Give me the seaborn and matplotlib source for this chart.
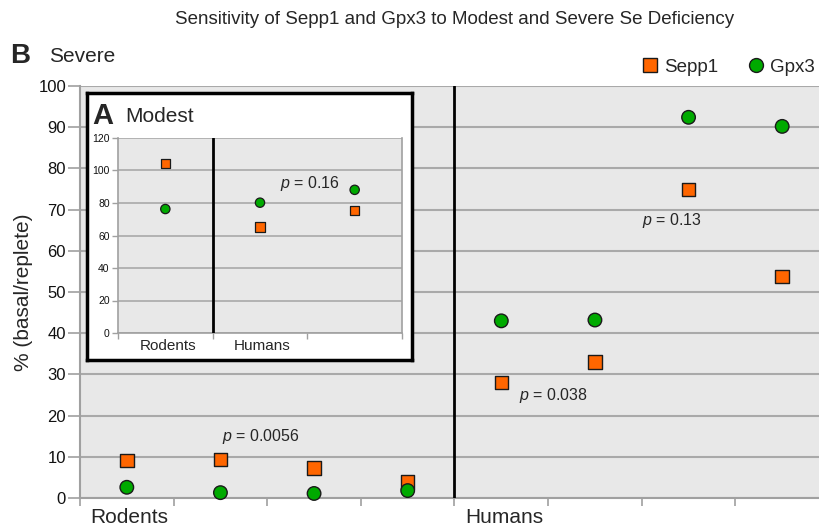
import numpy as np
import pandas as pd
import matplotlib
matplotlib.use("Agg")
import matplotlib.pyplot as plt
import matplotlib.transforms as mtransforms
from matplotlib.lines import Line2D
import seaborn as sns

# ---------------- data ----------------
genes = ["Sepp1", "Gpx3"]
severe_groups = ["Rodents", "Humans"]
severe_sepp1 = [9.1, 9.3, 7.3, 3.9, 28.0, 33.0, 74.9, 53.8]
severe_gpx3 = [2.6, 1.3, 1.1, 1.8, 43.0, 43.2, 92.4, 90.2]
modest_groups = ["Rodents", "Humans"]
modest_sepp1 = [104.3, 65.2, 75.3]
modest_gpx3 = [76.3, 80.2, 88.1]
severe_yticks = list(range(0, 101, 10))
modest_yticks = list(range(0, 121, 20))
severe_pvals = ["0.0056", "0.038", "0.13"]
modest_pval = "0.16"

title = "Sensitivity of Sepp1 and Gpx3 to Modest and Severe Se Deficiency"

# ---------------- style ----------------
sns.set_theme(style="white")
plt.rcParams["font.family"] = ["Liberation Sans", "DejaVu Sans"]
plt.rcParams["mathtext.fontset"] = "custom"
plt.rcParams["mathtext.it"] = "Liberation Sans:italic"
plt.rcParams["mathtext.rm"] = "Liberation Sans"

palette = {"Sepp1": "#ff6600", "Gpx3": "#00aa00"}
markers = {"Sepp1": "s", "Gpx3": "o"}
bg = "#e8e8e8"
gridc = "#a9a9a9"
spinec = "#a0a0a0"

W, H = 820, 526
fig = plt.figure(figsize=(W / 100, H / 100), dpi=100)


def fx(px):
    return px / W


def fy(py):
    return 1 - py / H


# ---------------- main (severe) axes ----------------
ax = fig.add_axes([fx(80), fy(498), fx(829) - fx(80), fy(86) - fy(498)])
ax.set_facecolor(bg)
n_sev = len(severe_sepp1)
sev = pd.DataFrame({
    "pos": list(range(n_sev)) * 2,
    "value": severe_sepp1 + severe_gpx3,
    "gene": ["Sepp1"] * n_sev + ["Gpx3"] * n_sev,
})
sns.scatterplot(data=sev, x="pos", y="value", hue="gene", style="gene",
                palette=palette, markers=markers, s=95, edgecolor="#1a1a1a",
                linewidth=1.0, ax=ax, legend=False, zorder=4, clip_on=False)
ax.set_xlim(-0.5, n_sev - 0.5)
ax.set_ylim(0, 100)
ax.set_yticks(severe_yticks)
ax.set_xticks(np.arange(-0.5, n_sev, 1.0))
ax.set_xticklabels([])
ax.yaxis.grid(True, color=gridc, lw=1.5, zorder=0)
ax.set_axisbelow(True)
ax.tick_params(axis="y", left=True, length=9, width=1.2, color=spinec,
               labelsize=12, pad=1, labelcolor="#111111")
ax.tick_params(axis="x", bottom=True, length=6, width=1.2, color=spinec)
for s in ["top", "right"]:
    ax.spines[s].set_visible(False)
for s in ["left", "bottom"]:
    ax.spines[s].set_color(spinec)
    ax.spines[s].set_linewidth(1.5)
ax.axvline(n_sev / 2 - 0.5, color="black", lw=2, zorder=3)
ax.set_xlabel("")
ax.set_ylabel("% (basal/replete)", fontsize=15, labelpad=4)

trans = mtransforms.blended_transform_factory(ax.transData, ax.transAxes)
ax.text(-0.39, -0.048, severe_groups[0], transform=trans, fontsize=15,
        ha="left", va="center")
ax.text(3.61, -0.048, severe_groups[1], transform=trans, fontsize=15,
        ha="left", va="center")

ax.text(1.02, 15.0, r"$p$ = " + severe_pvals[0], fontsize=11.5, ha="left", va="center")
ax.text(4.19, 24.8, r"$p$ = " + severe_pvals[1], fontsize=11.5, ha="left", va="center")
ax.text(5.5, 67.3, r"$p$ = " + severe_pvals[2], fontsize=11.5, ha="left", va="center")

# titles / panel letters
fig.text(fx(455), fy(20), title, fontsize=13.5, ha="center", va="center")
fig.text(fx(10), fy(56), "B", fontsize=20, fontweight="bold", ha="left", va="center")
fig.text(fx(49), fy(57), "Severe", fontsize=15, ha="left", va="center")

# legend
handles = [Line2D([], [], marker=markers[g], color="none", markerfacecolor=palette[g],
                  markeredgecolor="#1a1a1a", markersize=10, markeredgewidth=1.0)
           for g in genes]
fig.legend(handles, genes, loc="center right", bbox_to_anchor=(fx(815), fy(67)),
           ncol=2, frameon=False, fontsize=13.5, handlelength=0.8,
           handletextpad=0.35, columnspacing=1.6, borderpad=0, borderaxespad=0)

# ---------------- inset (modest) ----------------
box = fig.add_axes([fx(87), fy(360), fx(412) - fx(87), fy(93) - fy(360)])
box.set_facecolor("white")
box.set_xticks([])
box.set_yticks([])
for s in box.spines.values():
    s.set_color("black")
    s.set_linewidth(2.5)
box.set_zorder(5)

fig.text(fx(92), fy(116), "A", fontsize=21, fontweight="bold", ha="left",
         va="center", zorder=10)
fig.text(fx(125), fy(117), "Modest", fontsize=15, ha="left", va="center", zorder=10)

iax = fig.add_axes([fx(118), fy(333), fx(402) - fx(118), fy(138) - fy(333)])
iax.set_zorder(6)
iax.set_facecolor(bg)
n_mod = len(modest_sepp1)
mod = pd.DataFrame({
    "pos": list(range(n_mod)) * 2,
    "value": modest_sepp1 + modest_gpx3,
    "gene": ["Sepp1"] * n_mod + ["Gpx3"] * n_mod,
})
sns.scatterplot(data=mod, x="pos", y="value", hue="gene", style="gene",
                palette=palette, markers=markers, s=45, edgecolor="#1a1a1a",
                linewidth=0.9, ax=iax, legend=False, zorder=4)
iax.set_xlim(-0.5, n_mod - 0.5)
iax.set_ylim(0, 120)
iax.set_yticks(modest_yticks)
iax.set_xticks(np.arange(-0.5, n_mod, 1.0))
iax.set_xticklabels([])
iax.yaxis.grid(True, color=gridc, lw=1.2, zorder=0)
iax.set_axisbelow(True)
iax.tick_params(axis="y", left=True, length=4, width=1, color=spinec,
                labelsize=7.5, pad=2, labelcolor="#111111")
iax.tick_params(axis="x", bottom=True, length=4, width=1, color=spinec)
iax.spines["top"].set_visible(False)
for s in ["left", "bottom", "right"]:
    iax.spines[s].set_color(spinec)
    iax.spines[s].set_linewidth(1.2)
iax.axvline(0.5, color="black", lw=2, zorder=3)
iax.set_xlabel("")
iax.set_ylabel("")
itrans = mtransforms.blended_transform_factory(iax.transData, iax.transAxes)
iax.text(0.03, -0.068, modest_groups[0], transform=itrans, fontsize=11,
         ha="center", va="center")
iax.text(1.02, -0.068, modest_groups[1], transform=itrans, fontsize=11,
         ha="center", va="center")
iax.text(1.21, 92.3, r"$p$ = " + modest_pval, fontsize=11.5, ha="left", va="center")

fig.savefig("out.png", dpi=100)
